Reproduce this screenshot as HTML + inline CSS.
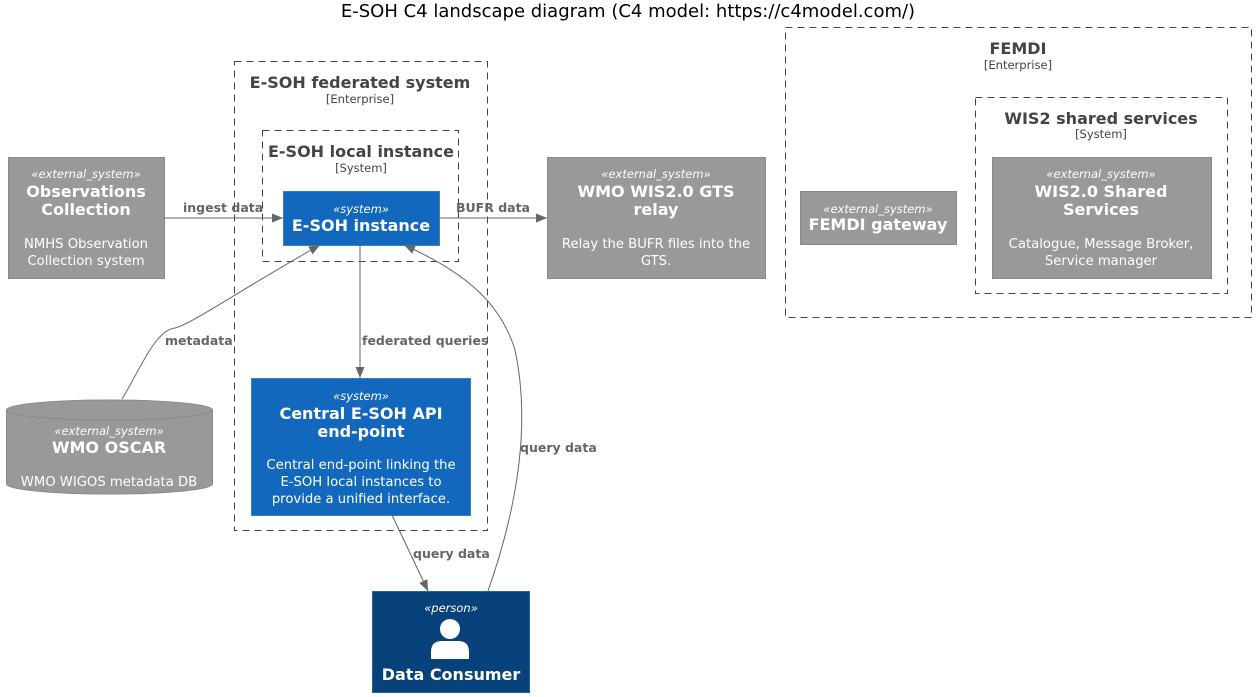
<!DOCTYPE html>
<html><head><meta charset="utf-8"><style>
html,body{margin:0;padding:0;background:#fff;}
svg{display:block;font-family:"DejaVu Sans","Liberation Sans",sans-serif;}
.st{font-style:italic;font-size:11.5px;fill:#fff;}
.tt{font-weight:bold;font-size:16px;fill:#fff;}
.ds{font-size:13.2px;fill:#fff;}
.bt{font-weight:bold;font-size:16px;fill:#444;}
.bs{font-size:11.5px;fill:#444;}
.lb{font-weight:bold;font-size:12.5px;fill:#666;}
.bd{fill:none;stroke:#444;stroke-width:1;stroke-dasharray:7,5;}
.ln{fill:none;stroke:#666;stroke-width:1;}
.ext{fill:#999;stroke:#8A8A8A;}
.sys{fill:#1168BD;stroke:#3C7FC0;}
</style></head><body>
<svg width="1256" height="697" viewBox="0 0 1256 697">
<defs><marker id="a" markerWidth="12" markerHeight="12" refX="11" refY="6" orient="auto" markerUnits="userSpaceOnUse"><path d="M0,1.5 L11,6 L0,10.5 Z" fill="#666"/></marker></defs>
<text x="628" y="17" text-anchor="middle" font-size="18" fill="#000">E-SOH C4 landscape diagram (C4 model: https://c4model.com/)</text>

<rect class="bd" x="234.5" y="61.5" width="253" height="469"/>
<text class="bt" x="360" y="88" text-anchor="middle">E-SOH federated system</text>
<text class="bs" x="360" y="103" text-anchor="middle">[Enterprise]</text>
<rect class="bd" x="262.5" y="130.5" width="196" height="131"/>
<text class="bt" x="361" y="157" text-anchor="middle">E-SOH local instance</text>
<text class="bs" x="361" y="172" text-anchor="middle">[System]</text>
<rect class="bd" x="785.5" y="27.5" width="466" height="290"/>
<text class="bt" x="1018" y="54" text-anchor="middle">FEMDI</text>
<text class="bs" x="1018" y="69" text-anchor="middle">[Enterprise]</text>
<rect class="bd" x="975.5" y="97.5" width="252" height="196"/>
<text class="bt" x="1101" y="124" text-anchor="middle">WIS2 shared services</text>
<text class="bs" x="1101" y="138" text-anchor="middle">[System]</text>

<rect class="ext" x="8.5" y="157.5" width="156" height="121"/>
<text class="st" x="86" y="178" text-anchor="middle">«external_system»</text>
<text class="tt" x="86" y="197" text-anchor="middle">Observations</text>
<text class="tt" x="86" y="215" text-anchor="middle">Collection</text>
<text class="ds" x="86" y="248" text-anchor="middle">NMHS Observation</text>
<text class="ds" x="86" y="265" text-anchor="middle">Collection system</text>

<rect class="sys" x="283.5" y="191.5" width="156" height="54"/>
<text class="st" x="361" y="213" text-anchor="middle">«system»</text>
<text class="tt" x="361" y="231" text-anchor="middle">E-SOH instance</text>

<rect class="ext" x="547.5" y="157.5" width="218" height="121"/>
<text class="st" x="656" y="178" text-anchor="middle">«external_system»</text>
<text class="tt" x="656" y="197" text-anchor="middle">WMO WIS2.0 GTS</text>
<text class="tt" x="656" y="215" text-anchor="middle">relay</text>
<text class="ds" x="656" y="248" text-anchor="middle">Relay the BUFR files into the</text>
<text class="ds" x="656" y="265" text-anchor="middle">GTS.</text>

<rect class="ext" x="800.5" y="191.5" width="156" height="53"/>
<text class="st" x="878" y="213" text-anchor="middle">«external_system»</text>
<text class="tt" x="878" y="230" text-anchor="middle">FEMDI gateway</text>

<rect class="ext" x="992.5" y="157.5" width="219" height="121"/>
<text class="st" x="1101" y="178" text-anchor="middle">«external_system»</text>
<text class="tt" x="1101" y="197" text-anchor="middle">WIS2.0 Shared</text>
<text class="tt" x="1101" y="215" text-anchor="middle">Services</text>
<text class="ds" x="1101" y="248" text-anchor="middle">Catalogue, Message Broker,</text>
<text class="ds" x="1101" y="265" text-anchor="middle">Service manager</text>

<path class="ext" d="M6.5,410 A103,10 0 0 1 212.5,410 L212.5,484 A103,10 0 0 1 6.5,484 Z"/>
<path d="M6.5,410 A103,10 0 0 0 212.5,410" fill="none" stroke="#8A8A8A"/>
<text class="st" x="109" y="435" text-anchor="middle">«external_system»</text>
<text class="tt" x="109" y="453" text-anchor="middle">WMO OSCAR</text>
<text class="ds" x="109" y="486" text-anchor="middle">WMO WIGOS metadata DB</text>

<rect class="sys" x="251.5" y="378.5" width="219" height="137"/>
<text class="st" x="361" y="400" text-anchor="middle">«system»</text>
<text class="tt" x="361" y="419" text-anchor="middle">Central E-SOH API</text>
<text class="tt" x="361" y="437" text-anchor="middle">end-point</text>
<text class="ds" x="361" y="469" text-anchor="middle">Central end-point linking the</text>
<text class="ds" x="361" y="486" text-anchor="middle">E-SOH local instances to</text>
<text class="ds" x="361" y="503" text-anchor="middle">provide a unified interface.</text>

<rect x="372.5" y="591.5" width="157" height="101" fill="#08427B" stroke="#2E6295"/>
<text class="st" x="451" y="612" text-anchor="middle">«person»</text>
<circle cx="450" cy="629" r="10" fill="#fff"/>
<path d="M431,659 L431,652 Q431,641 442,641 L458,641 Q469,641 469,652 L469,659 Z" fill="#fff"/>
<text class="tt" x="451" y="680" text-anchor="middle">Data Consumer</text>

<line class="ln" x1="164" y1="218" x2="283" y2="218" marker-end="url(#a)"/>
<text class="lb" x="183" y="212">ingest data</text>
<line class="ln" x1="439" y1="218" x2="547" y2="218" marker-end="url(#a)"/>
<text class="lb" x="456" y="212">BUFR data</text>
<line class="ln" x1="360" y1="245" x2="360" y2="378" marker-end="url(#a)"/>
<text class="lb" x="362" y="345">federated queries</text>
<path class="ln" d="M122,399 C140,370 155,330 175,328 C190,325 240,290 320,245" marker-end="url(#a)"/>
<text class="lb" x="165" y="345">metadata</text>
<path class="ln" d="M392,515 L428,591" marker-end="url(#a)"/>
<text class="lb" x="413" y="558">query data</text>
<path class="ln" d="M488,591 C520,500 530,420 515,350 C500,300 460,270 404,245" marker-end="url(#a)"/>
<text class="lb" x="520" y="452">query data</text>
</svg>
</body></html>
